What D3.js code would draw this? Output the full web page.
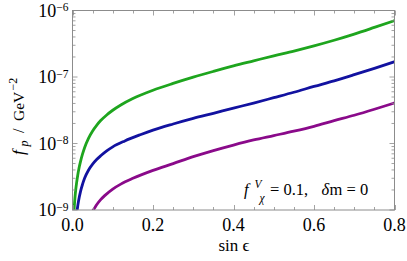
<!DOCTYPE html>
<html><head><meta charset="utf-8">
<script src="https://cdn.jsdelivr.net/npm/d3@7"></script>
<style>body{margin:0;background:#fff}svg{display:block}svg text{font-family:"Liberation Serif","Times New Roman","DejaVu Serif",serif}</style>
</head><body><svg id="c" width="407" height="261"></svg>
<script>
const xTicks=[0,0.2,0.4,0.6,0.8];
const xTickLabels=["0.0","0.2","0.4","0.6","0.8"];
const yTicks=[1e-9,1e-8,1e-7,1e-6];
const yTickBase="10";
const yTickExps=["−9","−8","−7","−6"];
const greenX=[0.003,0.004,0.006,0.008,0.01,0.013,0.016,0.02,0.025,0.03,0.04,0.05,0.06,0.07,0.085,0.1,0.12,0.15,0.2,0.25,0.3,0.35,0.4,0.45,0.5,0.55,0.6,0.65,0.7,0.75,0.8];
const greenY=[7.5e-10,1.005e-9,1.507e-9,2.010e-9,2.512e-9,3.341e-9,4.208e-9,5.384e-9,6.965e-9,8.652e-9,1.208e-8,1.545e-8,1.876e-8,2.213e-8,2.688e-8,3.162e-8,3.794e-8,4.743e-8,6.324e-8,7.998e-8,9.933e-8,1.213e-7,1.469e-7,1.751e-7,2.085e-7,2.457e-7,2.939e-7,3.572e-7,4.417e-7,5.560e-7,7.032e-7];
const blueX=[0.011,0.012,0.015,0.02,0.025,0.03,0.04,0.05,0.06,0.07,0.085,0.1,0.13,0.17,0.2,0.25,0.3,0.35,0.4,0.45,0.5,0.55,0.6,0.65,0.7,0.75,0.8];
const blueY=[9.4e-10,1.045e-9,1.368e-9,1.910e-9,2.443e-9,3.000e-9,4.000e-9,4.886e-9,5.730e-9,6.533e-9,7.752e-9,8.913e-9,1.094e-8,1.366e-8,1.589e-8,1.963e-8,2.383e-8,2.845e-8,3.404e-8,4.057e-8,4.886e-8,5.893e-8,7.212e-8,8.769e-8,1.084e-7,1.349e-7,1.698e-7];
const purpleX=[0.05,0.055,0.06,0.07,0.08,0.1,0.12,0.15,0.2,0.25,0.3,0.35,0.4,0.45,0.5,0.55,0.6,0.65,0.7,0.75,0.8];
const purpleY=[9.64e-10,1.073e-9,1.197e-9,1.429e-9,1.645e-9,2.065e-9,2.450e-9,2.993e-9,3.944e-9,4.988e-9,6.339e-9,7.837e-9,9.484e-9,1.130e-8,1.315e-8,1.532e-8,1.812e-8,2.202e-8,2.661e-8,3.274e-8,4.074e-8];
const series=[
 {x:greenX,y:greenY,color:"#1ea51e"},
 {x:blueX,y:blueY,color:"#1212a0"},
 {x:purpleX,y:purpleY,color:"#8a0a8a"}
];

const L=72.5,R=394.5,T=10.5,B=210;
const svg=d3.select("#c");
const x=d3.scaleLinear().domain([0,0.8]).range([L,R]);
const y=d3.scaleLog().domain([1e-9,1e-6]).range([B,T]);
const frameColor="#8c8c8c";

svg.append("defs").append("clipPath").attr("id","clip").append("rect")
 .attr("x",L).attr("y",T).attr("width",R-L).attr("height",B-T);

const line=d3.line().curve(d3.curveMonotoneX);
const g=svg.append("g").attr("clip-path","url(#clip)");
series.forEach(s=>{
 const pts=s.x.map((v,i)=>[x(v),y(s.y[i])]);
 g.append("path").attr("d",line(pts)).attr("fill","none")
  .attr("stroke",s.color).attr("stroke-width",2.8).attr("stroke-linejoin","round");
});

svg.append("rect").attr("x",L).attr("y",T).attr("width",R-L).attr("height",B-T)
 .attr("fill","none").attr("stroke",frameColor).attr("stroke-width",1);

const tk=svg.append("g").attr("stroke",frameColor).attr("stroke-width",0.8);
d3.range(0,0.8001,0.05).forEach(v=>{
 const major=xTicks.some(t=>Math.abs(t-v)<1e-6);
 const len=major?5:3;
 const px=Math.round(x(v))+0.5;
 tk.append("line").attr("x1",px).attr("x2",px).attr("y1",B).attr("y2",B-len);
 tk.append("line").attr("x1",px).attr("x2",px).attr("y1",T).attr("y2",T+len);
});
const yMinor=[];
for(let e=-9;e<-6;e++) for(let m=1;m<10;m++) yMinor.push(m*Math.pow(10,e));
yMinor.push(1e-6);
yMinor.forEach(v=>{
 const major=yTicks.some(t=>Math.abs(Math.log10(t)-Math.log10(v))<1e-6);
 const len=major?5:3;
 const py=y(v);
 tk.append("line").attr("x1",L).attr("x2",L+len).attr("y1",py).attr("y2",py);
 tk.append("line").attr("x1",R).attr("x2",R-len).attr("y1",py).attr("y2",py);
});

xTicks.forEach((v,i)=>{
 svg.append("text").attr("x",x(v)).attr("y",231).attr("text-anchor","middle")
  .attr("font-size",18).text(xTickLabels[i]);
});
yTicks.forEach((v,i)=>{
 const t=svg.append("text").attr("x",68.5).attr("y",y(v)+6).attr("text-anchor","end").attr("font-size",18);
 t.append("tspan").text(yTickBase);
 t.append("tspan").attr("dy",-5.5).attr("font-size",11.5).text(yTickExps[i]);
});

svg.append("text").attr("x",234).attr("y",251).attr("text-anchor","middle").attr("font-size",17)
 .text("sin ϵ");

const yt=svg.append("g").attr("transform","translate(24,157) rotate(-90)");
yt.append("text").attr("x",2).attr("y",0).attr("font-size",17.5).attr("font-style","italic").text("f");
yt.append("text").attr("x",10.5).attr("y",4).attr("font-size",12).attr("font-style","italic").text("p");
yt.append("text").attr("x",24).attr("y",0).attr("font-size",16.5).text("/");
yt.append("text").attr("x",36).attr("y",0).attr("font-size",15.5).text("GeV");
yt.append("text").attr("x",66.5).attr("y",-7).attr("font-size",12).text("−2");

const an=svg.append("g").attr("font-size",16.5);
an.append("text").attr("x",244).attr("y",195).attr("font-style","italic").text("f");
an.append("text").attr("x",254.5).attr("y",188).attr("font-size",11.5).attr("font-style","italic").text("V");
an.append("text").attr("x",259.5).attr("y",201.5).attr("font-size",11.5).attr("font-style","italic").text("χ");
an.append("text").attr("x",270).attr("y",195).text("= 0.1,");
an.append("text").attr("x",321.5).attr("y",195).attr("font-style","italic").text("δ");
an.append("text").attr("x",329.5).attr("y",195).text("m = 0");
</script></body></html>
